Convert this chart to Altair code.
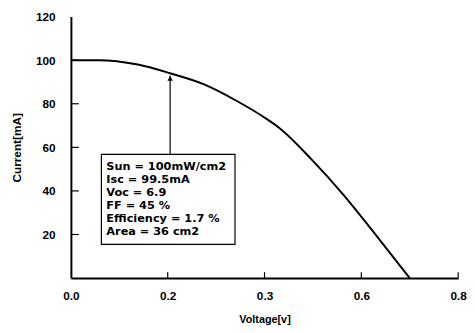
import altair as alt
import pandas as pd

# Curve data
voltage = [0.0, 0.057, 0.138, 0.205, 0.274, 0.341, 0.408, 0.43, 0.497, 0.564, 0.631, 0.70]
current = [100, 100, 98, 94, 89, 81.5, 72.5, 69, 54.5, 38, 19.5, 0]

x_tick_values = [0.0, 0.2, 0.4, 0.6, 0.8]
x_tick_labels = ["0.0", "0.2", "0.3", "0.6", "0.8"]
y_tick_values = [20, 40, 60, 80, 100, 120]
y_minor_ticks = [20, 40, 60, 80, 100]
x_minor_ticks = [0.2, 0.4, 0.6, 0.8]

info_lines = ["Sun = 100mW/cm2", "Isc = 99.5mA", "Voc = 6.9", "FF = 45 %",
              "Efficiency = 1.7 %", "Area = 36 cm2"]

# annotation anchors (data coords)
arrow_v = [0.205]
arrow_from = [56.8]
arrow_to = [93.0]
box_x1, box_x2 = [0.063], [0.339]
box_y1, box_y2 = [56.8], [15.5]

W, H = 394, 266
FONT = "Liberation Sans"
BOX_FONT = "DejaVu Sans"

curve_df = pd.DataFrame({"V": voltage, "I": current})

label_map = "{" + ",".join(f"'{v:.1f}':'{l}'" for v, l in zip(x_tick_values, x_tick_labels)) + "}"

xscale = alt.Scale(domain=[0, 0.8], nice=False, zero=False)
yscale = alt.Scale(domain=[0, 120], nice=False)

xaxis = alt.Axis(values=x_tick_values, labelExpr=f"{label_map}[format(datum.value, '.1f')]",
                 title="Voltage[v]", grid=False, ticks=False, domainColor="black", domainWidth=2,
                 labelFont=FONT, labelFontWeight="bold", labelFontSize=12, labelColor="black",
                 labelPadding=13, titleFont=FONT, titleFontWeight="bold", titleFontSize=11,
                 titleColor="black", titlePadding=12, labelFlush=False)
yaxis = alt.Axis(values=y_tick_values, title="Current[mA]", grid=False, ticks=False,
                 domainColor="black", domainWidth=2, labelFont=FONT, labelFontWeight="bold",
                 labelFontSize=12, labelColor="black", labelPadding=16, titleFont=FONT,
                 titleFontWeight="bold", titleFontSize=12, titleColor="black", titlePadding=12)

base = alt.Chart(curve_df)
curve = base.mark_line(color="black", strokeWidth=2, interpolate="monotone").encode(
    x=alt.X("V:Q", scale=xscale, axis=xaxis),
    y=alt.Y("I:Q", scale=yscale, axis=yaxis),
)

yt = alt.Chart(pd.DataFrame({"t": y_minor_ticks})).mark_rule(color="black", strokeWidth=1.2).encode(
    y=alt.Y("t:Q", scale=yscale), x=alt.value(0), x2=alt.value(8))
xt = alt.Chart(pd.DataFrame({"t": x_minor_ticks})).mark_rule(color="black", strokeWidth=1.2).encode(
    x=alt.X("t:Q", scale=xscale), y=alt.value(H), y2=alt.value(H - 6))

box_df = pd.DataFrame({"x1": box_x1, "x2": box_x2, "y1": box_y1, "y2": box_y2,
                       "txt": ["\n".join(info_lines)]})
box = alt.Chart(box_df).mark_rect(fill="white", stroke="black", strokeWidth=1.2).encode(
    x=alt.X("x1:Q", scale=xscale), x2="x2:Q", y=alt.Y("y1:Q", scale=yscale), y2="y2:Q")
text = alt.Chart(box_df).mark_text(align="left", baseline="top", lineBreak="\n", lineHeight=13.3,
                                   font=BOX_FONT, fontSize=11.5, fontWeight="bold", color="black",
                                   dx=5, dy=7).encode(
    x=alt.X("x1:Q", scale=xscale), y=alt.Y("y1:Q", scale=yscale), text="txt:N")

arrow_df = pd.DataFrame({"v": arrow_v, "a": arrow_from, "b": arrow_to})
arrow = alt.Chart(arrow_df).mark_rule(color="black", strokeWidth=1.2).encode(
    x=alt.X("v:Q", scale=xscale), y=alt.Y("a:Q", scale=yscale), y2="b:Q")
head = alt.Chart(arrow_df).mark_point(shape="triangle-up", filled=True, color="black", size=30,
                                      opacity=1, yOffset=3).encode(
    x=alt.X("v:Q", scale=xscale), y=alt.Y("b:Q", scale=yscale))

chart = alt.layer(curve, yt, xt, arrow, head, box, text).properties(
    width=W, height=H,
    autosize=alt.AutoSizeParams(type="none"),
    padding={"left": 64, "top": 6, "right": 9, "bottom": 45},
    background="white",
).configure_view(stroke=None)

chart.save("out.html", embed_options={"renderer": "svg", "actions": False})
